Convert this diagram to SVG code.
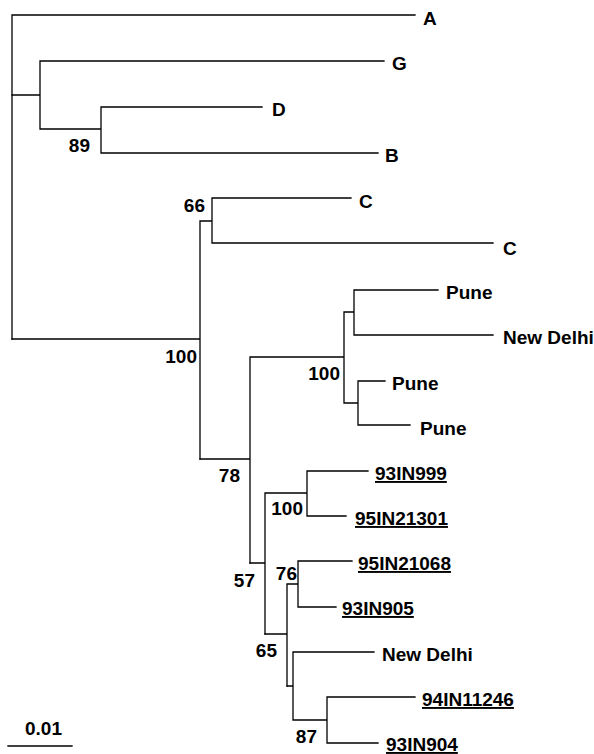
<svg xmlns="http://www.w3.org/2000/svg" width="594" height="754" viewBox="0 0 594 754">
<style>
.br{fill:none;stroke:#000;stroke-width:1.3;stroke-linecap:square}
.t{font-family:"Liberation Sans",Arial,Helvetica,sans-serif;font-weight:bold;font-size:19px;fill:#000}
.u{text-decoration:underline}
.bs{text-anchor:end}
</style>
<rect width="594" height="754" fill="#fff"/>
<g id="connectors" class="br">
<path d="M12 15 V339 M12 15 H415"/>
<path d="M12 95 H40 M40 61 V129 M40 61 H384 M40 129 H101 M101 107 V153 M101 107 H262 M101 153 H378"/>
<path d="M12 339 H200 M200 221 V459 M200 221 H212 M212 198 V243 M212 198 H351 M212 243 H493"/>
<path d="M200 459 H250 M250 357 V563 M250 357 H344 M344 312 V403 M344 312 H354 M354 290 V335 M354 290 H438 M354 335 H493 M344 403 H358 M358 381 V425 M358 381 H385 M358 425 H410"/>
<path d="M250 563 H265 M265 493 V634 M265 493 H307 M307 471 V516 M307 471 H368 M307 516 H346"/>
<path d="M265 634 H287 M287 584 V686 M287 584 H298 M298 561 V607 M298 561 H352 M298 607 H336"/>
<path d="M287 686 H293 M293 652 V720 M293 652 H374 M293 720 H327 M327 697 V743 M327 697 H415 M327 743 H378"/>
</g>
<g id="leaf-A"><text class="t" x="423" y="25">A</text></g>
<g id="leaf-G"><text class="t" x="392" y="70">G</text></g>
<g id="leaf-D"><text class="t" x="272" y="116">D</text></g>
<g id="leaf-B"><text class="t" x="385" y="162">B</text></g>
<g id="leaf-C1"><text class="t" x="359" y="208">C</text></g>
<g id="leaf-C2"><text class="t" x="503" y="255">C</text></g>
<g id="leaf-Pune1"><text class="t" x="446" y="299">Pune</text></g>
<g id="leaf-NewDelhi1"><text class="t" x="503" y="344">New Delhi</text></g>
<g id="leaf-Pune2"><text class="t" x="392" y="390">Pune</text></g>
<g id="leaf-Pune3"><text class="t" x="420" y="435">Pune</text></g>
<g id="leaf-93IN999"><text class="t u" x="375" y="480">93IN999</text></g>
<g id="leaf-95IN21301"><text class="t u" x="355" y="525">95IN21301</text></g>
<g id="leaf-95IN21068"><text class="t u" x="358" y="570">95IN21068</text></g>
<g id="leaf-93IN905"><text class="t u" x="342" y="615">93IN905</text></g>
<g id="leaf-NewDelhi2"><text class="t" x="382" y="661">New Delhi</text></g>
<g id="leaf-94IN11246"><text class="t u" x="422" y="706">94IN11246</text></g>
<g id="leaf-93IN904"><text class="t u" x="386" y="751">93IN904</text></g>
<g id="bootstrap-89"><text class="t bs" x="90" y="152">89</text></g>
<g id="bootstrap-66"><text class="t bs" x="205" y="212">66</text></g>
<g id="bootstrap-100a"><text class="t bs" x="197" y="363">100</text></g>
<g id="bootstrap-78"><text class="t bs" x="240" y="482">78</text></g>
<g id="bootstrap-100b"><text class="t bs" x="340" y="380">100</text></g>
<g id="bootstrap-100c"><text class="t bs" x="303" y="515">100</text></g>
<g id="bootstrap-57"><text class="t bs" x="255" y="587">57</text></g>
<g id="bootstrap-76"><text class="t bs" x="297" y="580">76</text></g>
<g id="bootstrap-65"><text class="t bs" x="277" y="657">65</text></g>
<g id="bootstrap-87"><text class="t bs" x="317" y="743">87</text></g>
<g id="scale-bar">
<path class="br" d="M8 746 H72"/>
<text class="t" x="25" y="735">0.01</text>
</g>
</svg>
